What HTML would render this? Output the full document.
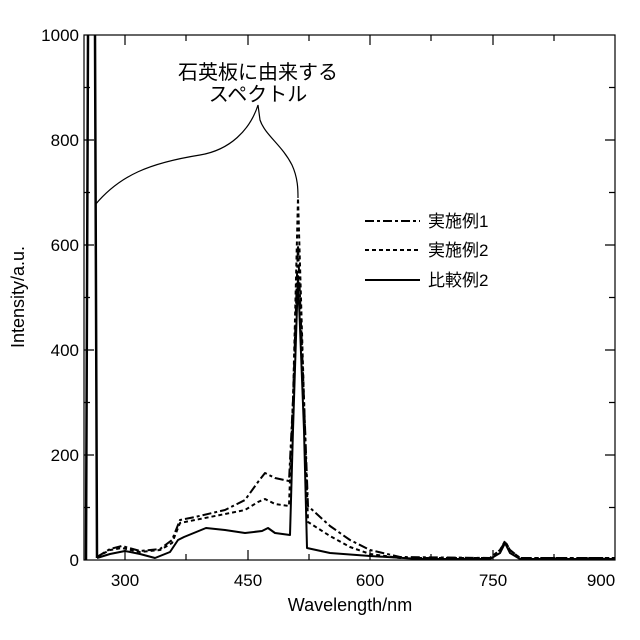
<!DOCTYPE html>
<html><head><meta charset="utf-8"><style>
body{margin:0;background:#fff}
svg{display:block;font-family:"Liberation Sans","Noto Sans CJK JP",sans-serif}
</style></head><body>
<svg width="640" height="640" viewBox="0 0 640 640">
<g stroke="#000" stroke-width="1.2" fill="none">
<rect x="84" y="35" width="531" height="525"/>
<path d="M125 560v-10M186 560v-6M248 560v-10M309 560v-6M370 560v-10M431 560v-6M493 560v-10M554 560v-6
M125 35v10M186 35v6M248 35v10M309 35v6M370 35v10M431 35v6M493 35v10M554 35v6
M84 507.5h6M84 455h10M84 402.5h6M84 350h10M84 297.5h6M84 245h10M84 192.5h6M84 140h10M84 87.5h6
M615 507.5h-6M615 455h-10M615 402.5h-6M615 350h-10M615 297.5h-6M615 245h-10M615 192.5h-6M615 140h-10M615 87.5h-6"/>
</g>
<g font-size="17" text-anchor="end" fill="#000">
<text x="79" y="566">0</text><text x="79" y="461">200</text><text x="79" y="356">400</text><text x="79" y="251">600</text><text x="79" y="146">800</text><text x="79" y="41">1000</text>
</g>
<g font-size="17" text-anchor="middle">
<text x="125" y="586">300</text><text x="248" y="586">450</text><text x="370" y="586">600</text><text x="493" y="586">750</text><text x="601" y="586">900</text>
<text x="350" y="611" font-size="18">Wavelength/nm</text>
<text transform="translate(24,297) rotate(-90)" font-size="18">Intensity/a.u.</text>
<text x="258" y="79" font-size="20">石英板に由来する</text>
<text x="258" y="101" font-size="20">スペクトル</text>
</g>
<g font-size="17"><text x="428" y="227">実施例1</text><text x="428" y="256">実施例2</text><text x="428" y="286">比較例2</text></g>
<g stroke="#000" stroke-width="2" fill="none">
<path d="M365 221h55" stroke-dasharray="9,3,3,3"/>
<path d="M365 250h55" stroke-dasharray="4,3"/>
<path d="M365 280h55"/>
</g>
<path d="M95 205 C120 175,150 163,200 155 C230 150,250 130,258 105 L260 120 C265 135,282 145,292 165 C298 178,298 190,298 198" stroke="#000" stroke-width="1.2" fill="none"/>
<path d="M86 560 L88 35 M95 35 L97 558" stroke="#000" stroke-width="2.5" fill="none"/>
<g stroke="#000" stroke-width="2" fill="none" stroke-linejoin="round">
<path d="M97 558 L110 554 L125 551 L140 554 L155 558 L170 552 L178 540 L184 537 L206 528 L225 530 L245 533 L262 531 L268 528 L275 533 L290 535 L293 430 L298 276 L304 430 L307 548 L330 553 L370 556 L420 559 L490 559 L500 553 L505 543 L510 553 L520 559 L615 559"/>
<path d="M97 557 L110 549 L122 546 L140 551 L160 549 L172 540 L180 520 L195 517 L225 510 L245 500 L258 482 L265 473 L275 478 L289 481 L293 400 L298 245 L304 400 L308 506 L330 526 L350 540 L370 550 L400 557 L490 558 L500 550 L505 542 L510 550 L520 558 L615 558" stroke-dasharray="9,3,3,3"/>
<path d="M97 557 L110 550 L122 548 L140 552 L160 550 L172 543 L180 523 L195 520 L225 514 L245 510 L258 502 L265 499 L275 504 L289 506 L293 400 L298 198 L304 400 L308 522 L330 536 L350 547 L370 554 L400 558 L490 558 L500 550 L505 541 L510 550 L520 558 L615 558" stroke-dasharray="4,3"/>
</g>
</svg>
</body></html>
